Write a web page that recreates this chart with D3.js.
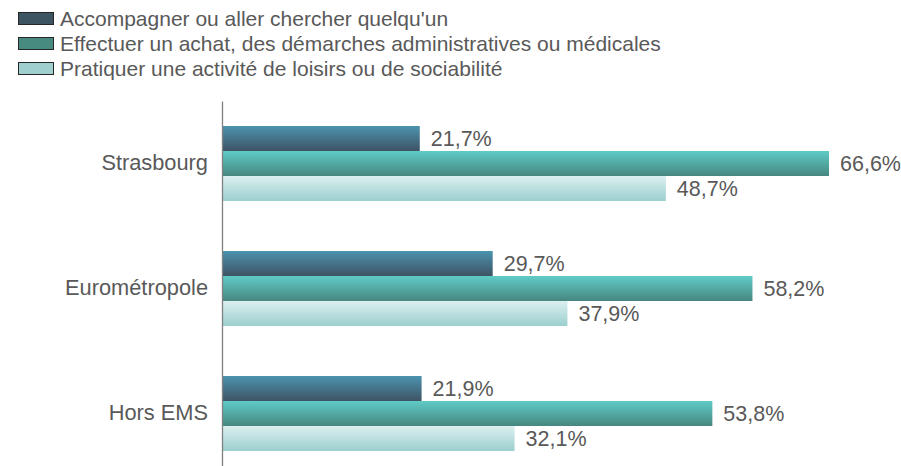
<!DOCTYPE html>
<html>
<head>
<meta charset="utf-8">
<script src="https://cdn.jsdelivr.net/npm/d3@7"></script>
<style>
  body { margin: 0; background: #fff; }
  text { font-family: "Liberation Sans", Arial, sans-serif; fill: #595959; }
</style>
</head>
<body>
<svg id="chart" width="901" height="466"></svg>
<script>
const categories = ['Strasbourg', 'Eurométropole', 'Hors EMS'];
const series = ["Accompagner ou aller chercher quelqu'un",
                'Effectuer un achat, des démarches administratives ou médicales',
                'Pratiquer une activité de loisirs ou de sociabilité'];
const accompagner = [21.7, 29.7, 21.9];
const achat = [66.6, 58.2, 53.8];
const loisirs = [48.7, 37.9, 32.1];

const values = [accompagner, achat, loisirs];
const grads = [
  { id: 'g0', top: '#4b93ae', bottom: '#3e5364', swatch: '#3d5463' },
  { id: 'g1', top: '#60cbc6', bottom: '#468780', swatch: '#468a80' },
  { id: 'g2', top: '#dcefef', bottom: '#9ccfcf', swatch: '#9fcfcf' }
];

const svg = d3.select('#chart');
const fmt = v => d3.format('.1f')(v).replace('.', ',') + '%';

const defs = svg.append('defs');
grads.forEach(g => {
  let lg = defs.append('linearGradient').attr('id', g.id)
    .attr('x1', 0).attr('y1', 0).attr('x2', 0).attr('y2', 1);
  lg.append('stop').attr('offset', '0%').attr('stop-color', g.top);
  lg.append('stop').attr('offset', '100%').attr('stop-color', g.bottom);
});

const x = d3.scaleLinear().domain([0, 70]).range([222, 860]);
const y = d3.scaleBand().domain(categories).range([101, 476])
  .paddingInner(0.4).paddingOuter(0.2);
const ys = d3.scaleBand().domain(d3.range(series.length)).range([0, y.bandwidth()]);

// bars
categories.forEach((c, ci) => {
  let g = svg.append('g').attr('transform', `translate(0,${y(c)})`);
  values.forEach((arr, si) => {
    g.append('rect')
      .attr('x', x(0))
      .attr('y', ys(si))
      .attr('width', x(arr[ci]) - x(0))
      .attr('height', ys.bandwidth())
      .attr('fill', `url(#${grads[si].id})`);
    g.append('text')
      .attr('x', x(arr[ci]) + 11)
      .attr('y', ys(si) + ys.bandwidth() / 2)
      .attr('dy', '0.35em')
      .attr('font-size', 21.5)
      .text(fmt(arr[ci]));
  });
});

// y axis
const yAxis = d3.axisLeft(y).tickSize(0).tickPadding(14);
const ag = svg.append('g').attr('transform', `translate(${x(0)},0)`).call(yAxis);
ag.select('.domain').attr('stroke', '#808080').attr('stroke-width', 1.3);
ag.selectAll('text').attr('font-size', 21.8)
  .style('font-family', '"Liberation Sans", Arial, sans-serif').attr('fill', '#595959');

// legend
const leg = svg.append('g');
series.forEach((s, i) => {
  let row = leg.append('g').attr('transform', `translate(18,${12 + i * 25})`);
  row.append('rect').attr('x', 0.5).attr('y', 0.5).attr('width', 35).attr('height', 12)
    .attr('fill', grads[i].swatch).attr('stroke', '#262626').attr('stroke-width', 1);
  row.append('text').attr('x', 42).attr('y', 7).attr('dy', '0.35em')
    .attr('font-size', 21).text(s);
});
</script>
</body>
</html>
